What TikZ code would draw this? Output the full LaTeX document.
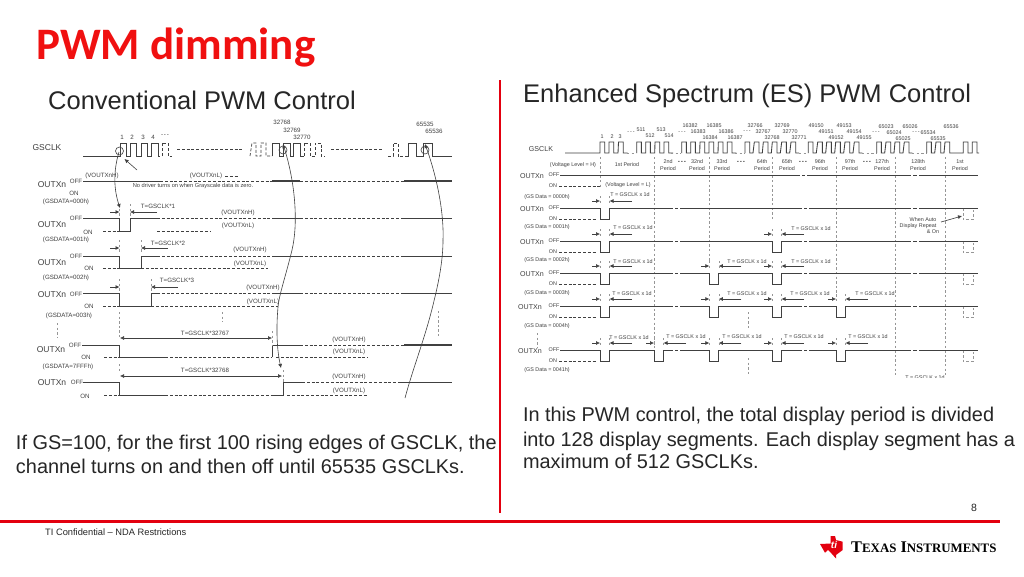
\documentclass[tikz,border=0pt]{standalone}
\usepackage{fontspec}
\setmainfont{Liberation Sans}
\newfontfamily\titlefont{Carlito}
\newfontfamily\logofont{Liberation Serif}
\usetikzlibrary{arrows.meta}
\definecolor{ink}{HTML}{404040}
\definecolor{tired}{HTML}{E3000F}
\definecolor{titlered}{HTML}{F01010}
\newcommand\dd{-\kern.9pt-\kern.9pt-}
\tikzset{
  x=1pt,y=-1pt,
  lab/.style={inner sep=0pt,outer sep=0pt,text=ink,font=\fontsize{6.2}{7}\selectfont},
  labr/.style={lab,font=\fontsize{5.4}{6.5}\selectfont},
  outl/.style={lab,font=\fontsize{8.5}{10}\selectfont},
  outr/.style={lab,font=\fontsize{7.1}{9}\selectfont},
  body/.style={inner sep=0pt,outer sep=0pt,anchor=base west,text=black!85,font=\fontsize{19.9}{24}\selectfont},
  sig/.style={draw=ink,line width=.85pt},
  dsh/.style={draw=ink,line width=.7pt,dash pattern=on 3pt off 1.8pt},
  vdsh/.style={draw=ink!55,line width=.55pt,dash pattern=on 2.4pt off 2.2pt},
  dim/.style={draw=ink,line width=.6pt,-{Latex[length=4pt,width=4pt]}},
  dimd/.style={draw=ink,line width=.6pt,{Latex[length=4pt,width=4pt]}-{Latex[length=4pt,width=4pt]}},
  crv/.style={draw=ink,line width=.6pt},
  crva/.style={crv,-{Latex[length=4pt,width=4pt]}},
}
\newcount\nn
\newcommand\lab[4][lab]{\global\advance\nn by 1\relax\node[#1] (n\the\nn) at (#2,#3) {#4};}
\newcommand\leftrow[4]{%
  \draw[sig] (83,#1)--(#3,#1)--(#3,#2)--(#4,#2)--(#4,#1)--(157,#1);
  \draw[dsh] (103,#2)--(#3,#2);
  \draw[dsh] (157,#1)--(272,#1);
  \draw[sig] (272,#1)--(300,#1);
  \draw[dsh] (300,#1)--(404,#1);
  \draw[sig] (404,#1)--(452,#1);
}
\newcommand\ltick[3]{%
  \draw[dim] (110,#1)--(#2,#1);
  \draw[dim] (#3+27,#1)--(#3,#1);
  \draw[vdsh] (#2,#1-8)--(#2,#1+5);
  \draw[vdsh] (#3,#1-8)--(#3,#1+5);
}
\newcommand\esline[1]{%
  \draw[sig] (560,#1)--(978,#1);
  \foreach \g in {673,678,802,807,911,917}{\draw[white,line width=2pt] (\g,#1)--(\g+2,#1);}
}
\newcommand\pulse[2]{%
  \draw[white,line width=2pt] (#1+.4,#2)--(#1+9.1,#2);
  \draw[sig] (#1,#2)--(#1,#2+11)--(#1+9.5,#2+11)--(#1+9.5,#2);
  \draw[dim] (#1-8,#2-7)--(#1,#2-7);
  \draw[dim] (#1+32,#2-7)--(#1+9.5,#2-7);
  \draw[vdsh] (#1,#2-12)--(#1,#2-3);
  \draw[vdsh] (#1+9.5,#2-12)--(#1+9.5,#2-3);
}
\newcommand\ghost[1]{%
  \draw[vdsh] (963,#1+.5)--(963,#1+11)--(973,#1+11)--(973,#1+.5);
}
\newcommand\eslabels[2]{%
  \lab[outr]{#2}{#1+1}{OUTXn}
  \lab[labr]{554}{#1}{OFF}
  \lab[labr]{553}{#1+11}{ON}
  \draw[dsh] (559,#1+11)--(597,#1+11);
}
\begin{document}
\begin{tikzpicture}
\useasboundingbox[fill=white] (0,0) rectangle (1024,576);

% titles
\node[inner sep=0pt,anchor=base west,text=titlered,font=\titlefont\bfseries\fontsize{45}{48}\selectfont] (title) at (36,59) {PWM dimming};
\node[inner sep=0pt,anchor=base west,text=black!85,font=\fontsize{25.5}{30}\selectfont] (cap1) at (48,109) {Conventional PWM Control};
\node[inner sep=0pt,anchor=base west,text=black!85,font=\fontsize{25.5}{30}\selectfont] (cap2) at (523,102) {Enhanced Spectrum (ES) PWM Control};

% frame lines
\draw[tired,line width=1.3pt] (500,80)--(500,513);
\draw[tired,line width=3pt] (0,521)--(1000,521);

% ---------- left diagram: GSCLK
\lab[outl]{47}{148}{GSCLK}
\draw[sig] (83,156)--(120,156)
  \foreach \x in {120,130.5,141}{ --(\x,143)--(\x+6.2,143)--(\x+6.2,156)--(\x+10.5,156)} --(151.5,143)--(158,143)--(158,156)--(160,156);
\draw[dsh] (162,156)--(162,143)--(168,143)--(168,156)--(172,156);
\draw[dsh] (177,149)--(242,149);
\draw[dsh] (250,156)--(252,143)--(256,143)--(256,156)--(261,156)--(261,143)--(266,143)--(266,156)--(272,156);
\draw[sig] (272,156)--(272,143)--(279,143)--(279,156)--(283,156)--(283,143)--(290,143)--(290,156)--(293,156)--(293,143)--(300,143)--(300,156)--(304,156);
\draw[dsh] (304,156)--(304,143)--(310,143)--(310,156)--(315,156)--(315,143)--(321,143)--(321,156)--(325,156);
\draw[dsh] (331,149)--(383,149);
\draw[dsh] (388,156)--(393,156)--(393,143)--(398,143)--(398,156)--(405,156);
\draw[sig] (405,156)--(408,156)--(408,143)--(416,143)--(416,156)--(423,156)--(423,143)--(432,143)--(432,156)--(452,156);
\foreach \x/\y/\t in {122/137/1,132/137/2,143/137/3,153/137/4,165/136/\dd,282/122/32768,292/130/32769,302/137/32770,425/124/65535,434/131/65536}{\lab{\x}{\y}{\t}}
\draw[crv] (119.5,151) circle (4);
\draw[crv] (283,150) circle (4);
\draw[crv] (425,150) circle (4);

% left row 0
\draw[sig] (83,181)--(160,181);
\draw[dsh] (160,181)--(272,181);
\draw[sig,line width=1.1pt] (272,181)--(300,181);
\draw[dsh] (300,181)--(404,181);
\draw[sig,line width=1.1pt] (404,181)--(452,181);
\lab[outl]{52}{185}{OUTXn}
\lab{76}{181}{OFF}
\lab{74}{193}{ON}
\lab{102}{176}{(VOUTXnH)}
\lab{206}{176}{(VOUTXnL)}
\draw[dsh] (225,176)--(238,176);
\lab[lab,font=\fontsize{5.7}{7}\selectfont]{193}{186}{No driver turns on when Grayscale data is zero.}
\lab{66}{202}{(GSDATA=000h)}

% left row 1-3
\leftrow{218}{231}{119.5}{130}
\ltick{212}{119.5}{130}
\lab[outl]{52}{225}{OUTXn}
\lab{76}{218}{OFF}
\lab{88}{232}{ON}
\lab{158}{206}{T=GSCLK*1}
\lab{238}{213}{(VOUTXnH)}
\lab{238}{226}{(VOUTXnL)}
\draw[dsh] (157,231)--(210,231);
\lab{66}{240}{(GSDATA=001h)}

\leftrow{256}{268}{119.5}{141}
\ltick{248}{119.5}{141}
\lab[outl]{52}{263}{OUTXn}
\lab{76}{256}{OFF}
\lab{89}{268}{ON}
\lab{168}{243}{T=GSCLK*2}
\lab{250}{250}{(VOUTXnH)}
\lab{250}{264}{(VOUTXnL)}
\draw[dsh] (141,268)--(268,268);
\lab{66}{278}{(GSDATA=002h)}

\leftrow{293}{306}{119.5}{151}
\ltick{287}{119.5}{151}
\lab[outl]{52}{295}{OUTXn}
\lab{76}{294}{OFF}
\lab{89}{306}{ON}
\lab{177}{280}{T=GSCLK*3}
\lab{263}{288}{(VOUTXnH)}
\lab{263}{302}{(VOUTXnL)}
\draw[dsh] (151,306)--(278,306);
\lab{69}{316}{(GSDATA=003h)}

% left vertical dots
\draw[vdsh] (57,323)--(57,338);
\draw[vdsh] (119.5,312)--(119.5,338);
\draw[vdsh] (222,312)--(222,322);
\draw[vdsh] (438,311)--(438,336);

% left row 4
\draw[sig] (82,345)--(119.5,345)--(119.5,357)--(165,357);
\draw[dsh] (104,357)--(119,357);
\draw[dsh] (165,357)--(272,357);
\draw[sig] (272,357)--(272,345)--(300,345);
\draw[dsh] (276,357)--(368,357);
\draw[dsh] (300,345)--(404,345);
\draw[sig,line width=1.1pt] (404,345)--(452,345);
\draw[dimd] (120,338)--(272,338);
\draw[vdsh] (272,331)--(272,345);
\lab[outl]{51}{350}{OUTXn}
\lab{75}{345}{OFF}
\lab{86}{357}{ON}
\lab{205}{333}{T=GSCLK*32767}
\lab{349}{340}{(VOUTXnH)}
\lab{349}{352}{(VOUTXnL)}
\lab{68}{367}{(GSDATA=7FFFh)}

% left row 5
\draw[sig] (83,382)--(119.5,382)--(119.5,395)--(165,395);
\draw[dsh] (104,395)--(119,395);
\draw[dsh] (165,395)--(272,395);
\draw[sig] (272,395)--(283,395)--(283,382)--(302,382);
\draw[dsh] (287,395)--(368,395);
\draw[dsh] (302,382)--(400,382);
\draw[sig] (400,382)--(452,382);
\draw[dimd] (120,376)--(282,376);
\draw[vdsh] (119.5,364)--(119.5,373);
\draw[vdsh] (283,370)--(283,382);
\lab[outl]{52}{383}{OUTXn}
\lab{77}{382}{OFF}
\lab{85}{396}{ON}
\lab{205}{370}{T=GSCLK*32768}
\lab{349}{377}{(VOUTXnH)}
\lab{349}{391}{(VOUTXnL)}

% left curves
\draw[crva] (119,152) .. controls (113,172) and (114,190) .. (120,208);
\draw[dim] (137,170)--(124.5,159);
\draw[crva] (292,250) .. controls (298,225) and (296,185) .. (283,144);
\draw[crv] (292,250) .. controls (286,275) and (279,295) .. (278,307);
\draw[crva] (278,307) .. controls (276,330) and (277,350) .. (281,368);
\draw[crva] (443,240) .. controls (444,215) and (438,180) .. (425,144);
\draw[crv] (443,240) .. controls (443,262) and (438,285) .. (433,305) .. controls (425,338) and (413,368) .. (405,398);

% ---------- right diagram: GSCLK
\lab[outr]{541}{149}{GSCLK}
\draw[sig] (565,153)--(600,153)
  \foreach \x in {600,609,618.5}{ --(\x,142)--(\x+4.7,142)--(\x+4.7,153)--(\x+9,153)} --(625,153);
\draw[vdsh] (627,153)--(635,153);
\draw[sig] (636.7,153)
  \foreach \x in {636.7,645.7,655,664}{ --(\x,142)--(\x+4.7,142)--(\x+4.7,153)--(\x+9,153)};
\draw[vdsh] (671,153)--(681,153);
\draw[sig] (681.7,153)
  \foreach \x in {681.7,690.7,700,709,718.3,727.3}{ --(\x,142)--(\x+4.7,142)--(\x+4.7,153)--(\x+9,153)};
\draw[vdsh] (735,153)--(745,153);
\draw[sig] (745,153)
  \foreach \x in {745,754.3,763.3,772.3,781.7,791}{ --(\x,142)--(\x+4.7,142)--(\x+4.7,153)--(\x+8,153)};
\draw[vdsh] (799,153)--(808,153);
\draw[sig] (808.3,153)
  \foreach \x in {808.3,817.7,826.7,835.7,845,854.3}{ --(\x,142)--(\x+4.7,142)--(\x+4.7,153)--(\x+8,153)};
\draw[vdsh] (862,153)--(876,153);
\draw[sig] (876.7,153)
  \foreach \x in {876.7,886,895,904.3}{ --(\x,142)--(\x+4.7,142)--(\x+4.7,153)--(\x+8,153)};
\draw[vdsh] (912,153)--(926,153);
\draw[sig] (926.7,153)
  \foreach \x in {926.7,936,945}{ --(\x,142)--(\x+4.7,142)--(\x+4.7,153)--(\x+8,153)} --(963.3,153)--(963.3,142)--(968,142)--(968,153)--(972.3,153)--(972.3,142)--(977,142)--(977,153)--(979,153);

\foreach \x/\y/\t in {602/137/1,612/137/2,620/137/3,631/133/\dd,641/130/511,650/136/512,661/130/513,669/136/514,682/133/\dd,690/126/16382,698/132/16383,710/138/16384,714/126/16385,726/132/16386,735/138/16387,747/132/\dd,755/126/32766,763/132/32767,772/138/32768,782/126/32769,790/132/32770,799/138/32771,816/126/49150,826/132/49151,836/138/49152,844/126/49153,854/132/49154,864/138/49155,876/133/\dd,886/127/65023,894/133/65024,903/139/65025,910/127/65026,916/133/\dd,928/133/65534,938/139/65535,951/127/65536}{\lab[labr]{\x}{\y}{\t}}

% periods
\lab[labr]{573}{165}{(Voltage Level = H)}
\lab[labr]{627}{165}{1st Period}
\foreach \x/\t in {668/2nd,697/32nd,722/33rd,762/64th,787/65th,820/96th,850/97th,882/127th,918/128th,960/1st}{
  \lab[labr]{\x}{162}{\t}
  \lab[labr]{\x}{169}{Period}
}
\foreach \x in {682,741,803,867}{\lab[labr,font=\fontsize{6.5}{7}\bfseries\selectfont]{\x}{162}{\dd}}

% vertical dashed lines
\draw[vdsh] (600,157)--(600,189);
\draw[vdsh] (654,157)--(654,358);
\draw[vdsh] (709.3,157)--(709.3,262);
\draw[vdsh] (772,157)--(772,221);
\draw[vdsh] (836,157)--(836,298);
\draw[vdsh] (895.7,157)--(895.7,375);
\draw[vdsh] (945.7,157)--(945.7,375);

% row 0
\draw[sig] (560,175)--(797,175);
\draw[sig] (797,175)--(978,175);
\foreach \g in {800,805,911,917}{\draw[white,line width=2pt] (\g,175)--(\g+2,175);}
\lab[outr]{532}{176}{OUTXn}
\lab[labr]{554}{175}{OFF}
\lab[labr]{553}{186}{ON}
\draw[dsh] (559,186)--(600,186);
\lab[labr]{628}{185}{(Voltage Level = L)}
\lab[labr]{547}{197}{(GS Data = 0000h)}

% row 1
\esline{208}
\pulse{600}{208}
\ghost{208}
\eslabels{208}{532}
\lab[labr]{630}{195}{T = GSCLK x 1d}
\lab[labr]{547}{227}{(GS Data = 0001h)}
% row 2
\esline{241}
\pulse{600}{241}
\pulse{772}{241}
\ghost{241}
\eslabels{241}{532}
\lab[labr]{633}{228}{T = GSCLK x 1d}
\lab[labr]{811}{229}{T = GSCLK x 1d}
\lab[labr]{547}{260}{(GS Data = 0002h)}
% row 3
\esline{273}
\pulse{600}{273}
\pulse{709.3}{273}
\pulse{772}{273}
\ghost{273}
\eslabels{273}{532}
\lab[labr]{633}{262}{T = GSCLK x 1d}
\lab[labr]{747}{262}{T = GSCLK x 1d}
\lab[labr]{811}{262}{T = GSCLK x 1d}
\lab[labr]{547}{293}{(GS Data = 0003h)}
% row 4
\esline{306}
\pulse{600}{306}
\pulse{709.3}{306}
\pulse{772}{306}
\pulse{836}{306}
\ghost{306}
\eslabels{306}{530}
\lab[labr]{632}{294}{T = GSCLK x 1d}
\lab[labr]{747}{294}{T = GSCLK x 1d}
\lab[labr]{810}{294}{T = GSCLK x 1d}
\lab[labr]{875}{294}{T = GSCLK x 1d}
\lab[labr]{547}{326}{(GS Data = 0004h)}
% row 5
\esline{350}
\pulse{600}{350}
\pulse{654}{350}
\pulse{709.3}{350}
\pulse{772}{350}
\pulse{836}{350}
\ghost{350}
\eslabels{350}{530}
\lab[labr]{629}{338}{T = GSCLK x 1d}
\lab[labr]{686}{337}{T = GSCLK x 1d}
\lab[labr]{742}{337}{T = GSCLK x 1d}
\lab[labr]{804}{337}{T = GSCLK x 1d}
\lab[labr]{868}{337}{T = GSCLK x 1d}
\lab[labr]{547}{370}{(GS Data = 0041h)}

\draw[vdsh] (537,333)--(537,347);
\draw[vdsh] (748,312)--(748,330);
\draw[vdsh] (748,358)--(748,375);

\begin{scope}
  \clip (900,370) rectangle (960,377.5);
  \lab[labr]{925}{378}{T = GSCLK x 1d}
\end{scope}

\lab[labr]{923}{220}{When Auto}
\lab[labr]{918}{226}{Display Repeat}
\lab[labr]{933}{232}{\& On}
\draw[dim] (941,222)--(962,216);

% body texts
\node[body] (left1) at (16,449) {If GS=100, for the first 100 rising edges of GSCLK, the};
\node[body] (left2) at (16,473) {channel turns on and then off until 65535 GSCLKs.};
\node[body] (r1) at (523,421) {In this PWM control, the total display period is divided};
\node[body] (r2) at (523,446) {into 128 display segments. Each display segment has a};
\node[body] (r3) at (523,468) {maximum of 512 GSCLKs.};

% footer
\node[inner sep=0pt,text=black!85,font=\fontsize{10.5}{12}\selectfont] (page) at (974,508) {8};
\node[inner sep=0pt,anchor=base west,text=black!85,font=\fontsize{9.3}{11}\selectfont] (conf) at (45,535) {TI Confidential – NDA Restrictions};

% TI logo
\fill[tired] (820,544)--(830.5,543.5)--(830.5,536)--(835,536)--(836,540)--(842.7,541.7)--(842.7,550)--(836,555)--(836,558.5)--(831.5,553.5)--(828,550)--(825,552.7)--cycle;
\node[inner sep=0pt,text=white,font=\itshape\bfseries\fontsize{10}{10}\selectfont] (tiletters) at (834,545) {ti};
\node[inner sep=0pt,anchor=base west,text=black,font=\logofont\bfseries\fontsize{16.3}{20}\selectfont] (logo) at (851,552) {T{\fontsize{12.9}{16}\selectfont EXAS} I{\fontsize{12.9}{16}\selectfont NSTRUMENTS}};
\end{tikzpicture}
\end{document}
